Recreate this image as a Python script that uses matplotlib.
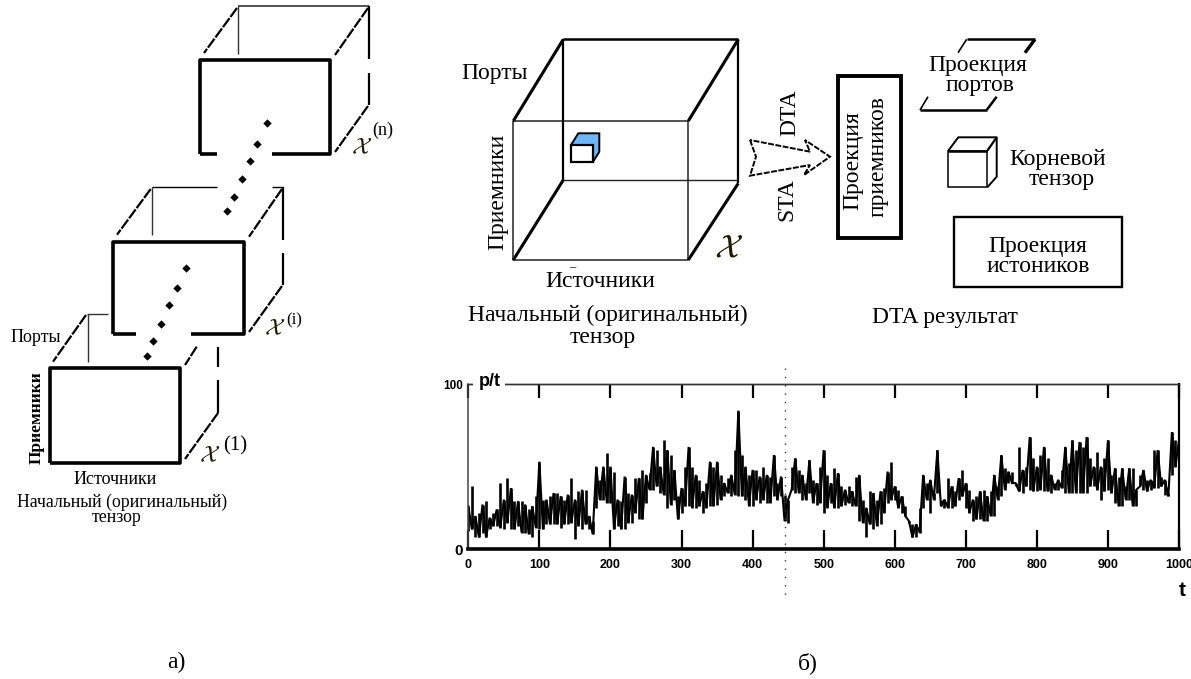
import matplotlib
matplotlib.use("Agg")
import matplotlib.pyplot as plt
from matplotlib.patches import Polygon, Rectangle

W, H = 1191, 679
SERIF = "Liberation Serif"
SANS = "Liberation Sans"
plt.rcParams["mathtext.fontset"] = "cm"

# ---- time series: upper and lower edge every 5 steps
series_t = list(range(0, 1001, 5))
series_hi = [26,38,20,22,27,29,19,22,24,40,
             30,43,37,29,29,29,27,24,26,32,
             53,30,30,32,34,34,32,30,33,43,
             30,35,36,36,20,17,50,42,50,58,
             50,47,30,29,44,34,33,43,43,48,
             45,46,62,60,50,66,60,57,48,32,
             37,50,62,50,45,42,35,40,53,50,
             53,45,40,43,45,60,84,57,50,45,
             48,48,44,50,45,44,57,40,44,33,
             30,50,55,48,45,40,54,42,40,50,
             60,45,40,49,46,38,36,38,35,44,
             45,30,25,35,34,30,35,37,47,53,
             38,36,32,26,17,15,15,25,45,40,
             42,34,60,30,30,43,38,35,43,48,
             40,36,30,32,35,36,32,35,45,38,
             57,49,47,47,40,62,48,50,68,55,
             50,57,62,55,45,40,42,48,62,52,
             66,60,65,62,68,55,50,59,50,55,
             66,45,49,44,49,38,49,49,36,45,
             48,42,42,60,60,44,42,34,71,66,66]
series_lo = [11,12,7,7,10,7,12,14,14,13,
             12,16,12,12,14,10,10,9,7,13,
             12,12,15,15,15,15,13,15,15,16,
             6,14,12,15,12,9,25,30,30,28,
             28,12,14,12,12,16,16,22,18,18,
             28,36,36,38,34,33,25,27,30,18,
             22,26,26,25,25,26,22,25,26,26,
             27,30,32,34,32,33,32,32,30,26,
             26,30,28,30,28,28,32,30,32,17,
             16,36,34,34,30,30,34,28,27,28,
             22,25,28,25,25,26,27,28,26,26,
             17,16,7,15,12,14,15,22,28,30,
             30,25,22,20,16,7,7,10,25,30,
             22,30,34,26,25,25,25,26,30,32,
             25,22,17,18,18,17,17,20,20,30,
             32,36,40,40,38,35,34,38,36,35,
             35,36,35,35,34,36,36,37,34,34,
             34,34,34,34,34,38,38,36,30,35,
             36,34,28,26,26,30,30,26,26,38,
             36,35,36,37,37,38,33,32,45,50,49]
x_ticks = [0,100,200,300,400,500,600,700,800,900,1000]
x_tick_labels = ["0","100","200","300","400","500","600","700","800","900","1000"]
marker_t = 445

fig = plt.figure(figsize=(W/100, H/100), dpi=100, facecolor="white")

# ---- time-series axes
L, R, T, B = 468.3, 1179, 384.3, 549
ax = fig.add_axes([L/W, 1-B/H, (R-L)/W, (B-T)/H])
ax.set_xlim(0, 1000); ax.set_ylim(0, 100)
ax.vlines(series_t, series_lo, series_hi, color="black", lw=1.9)
zig_y = [hi if i % 2 == 0 else lo for i, (hi, lo) in enumerate(zip(series_hi, series_lo))]
ax.plot(series_t, zig_y, color="black", lw=1.5, solid_joinstyle="miter")
ax.set_xticks(x_ticks, x_tick_labels, family=SANS, weight="bold", fontsize=9)
ax.set_yticks([])
ax.tick_params(axis="x", direction="in", length=13.5, width=1.6, pad=7)
sec = ax.secondary_xaxis("top")
sec.set_xticks(x_ticks, [""]*len(x_ticks))
sec.tick_params(direction="in", length=10, width=1.6)
sec.spines["top"].set_linewidth(1.0); sec.spines["top"].set_color("#333333")
for s, lw, c in (("bottom", 2.6, "black"), ("left", 1.1, "#444444"), ("right", 1.6, "black"), ("top", 1.0, "#333333")):
    ax.spines[s].set_linewidth(lw); ax.spines[s].set_color(c)

# ---- overlay in image pixels for the schematic cubes
ov = fig.add_axes([0, 0, 1, 1], facecolor="none")
ov.set_xlim(0, W); ov.set_ylim(H, 0); ov.axis("off")

def ln(xs, ys, lw=1.0, c="black", **k):
    ov.plot(xs, ys, color=c, lw=lw, solid_capstyle="butt", **k)

def dash(x0, y0, x1, y1, lw=1.6):
    ov.plot([x0, x1], [y0, y1], color="black", lw=lw, ls=(0, (5, 0.7)))

def tx(x, y, s, size=17, rot=0, **k):
    ov.text(x, y, s, fontsize=size, family=SERIF, ha="center", va="center", rotation=rot, color="black", **k)

def chi(x, y, size):
    ov.text(x, y, r"$\mathcal{X}$", fontsize=size, ha="center", va="center", color="#1c1c00")

# panel a) stack of cubes
def stacked(fx0, fy0, fx1, fy1, gap, bx0, by0, bx1, by1, topgap, rgap0, rgap1, bry):
    ln([fx0, fx0, fx1, fx1, gap[1]], [fy1, fy0, fy0, fy1, fy1], lw=2.6)
    ln([fx0, gap[0]], [fy1, fy1], lw=2.6)
    if topgap:
        ln([bx0, topgap[0]], [by0, by0], lw=1.0); ln([topgap[1], bx1], [by0, by0], lw=1.0)
    else:
        ln([bx0, bx1], [by0, by0], lw=1.2, c="#333333")
    ln([bx0, bx0], [by0, by1], lw=1.0, c="#333333")
    ln([bx1, bx1], [by0, rgap0], lw=1.6); ln([bx1, bx1], [rgap1, bry], lw=1.6)
    dash(bx0-1, by0+2, fx0+4, fy0-7)
    dash(bx1-1, by0+2, fx1+5, fy0-5)
    dash(bx1-1, bry+1, fx1+5, fy1-2)

stacked(200, 60, 330, 154, (217, 272), 238, 6, 369, 54, None, 59, 73, 105)
stacked(113, 241.7, 244, 334, (136, 191), 151.7, 187, 283, 235, (216.7, 271.7), 240, 253, 285)
ln([50, 50, 180, 180, 50], [462.7, 368, 368, 462.7, 462.7], lw=2.6)
ln([87.7, 87.7], [314, 362], lw=1.0, c="#333333")
ln([87, 108], [314, 314], lw=1.0, c="#333333")
dash(86, 315, 53, 361.7)
dash(196.7, 346.7, 185, 365)
ln([218.3, 218.3], [346.7, 367], lw=1.6); ln([218.3, 218.3], [380, 412.7], lw=1.6)
dash(218, 413, 185, 459)

dot_x = [266.7,256.7,250,241.7,234.2,227.3,185.7,176.7,169.3,161,152.7,146.7]
dot_y = [123,144,160.7,179,197,211.3,268,288,305,324,341,356]
ov.scatter(dot_x, dot_y, s=18, marker="D", color="black", lw=0)

tx(36, 337, "Порты", 13)
tx(37, 418, "Приемники", 12.5, rot=90, weight="bold")
tx(115, 480, "Источники", 13)
tx(121.7, 502, "Начальный (оригинальный)", 12.8)
tx(116.7, 518, "тензор", 12.8)
chi(361.7, 147, 17)
tx(383, 130, "(n)", 13)
chi(275, 328, 17)
tx(294, 320, "(i)", 12)
chi(210, 455, 17)
tx(235, 446, "(1)", 15)

# panel b) main cube
ln([513.3, 688.3, 688.3, 513.3, 513.3], [121, 121, 260, 260, 121], lw=1.1, c="#222222")
ln([563.3, 738.3], [39.3, 39.3], lw=1.8)
ln([563.3, 563.3], [39.3, 180], lw=1.6)
ln([738.3, 738.3], [39.3, 183.3], lw=1.6)
ln([563.3, 738.3], [180, 180], lw=1.0, c="#222222")
for (a, b), (c, d) in (((513.3, 121), (563.3, 39.3)), ((688.3, 121), (738.3, 39.3)),
                       ((513.3, 260), (563.3, 180)), ((688.3, 260), (738.3, 183.3))):
    ln([a, c], [b, d], lw=2.2)
ov.add_patch(Polygon([[571, 145], [578.3, 133.3], [599.3, 133.3], [599.3, 151.7], [592.7, 162.3], [592.7, 145]],
                     fc="#6db6f8", ec="black", lw=1.4))
ov.add_patch(Rectangle((571, 145), 21.7, 17.3, fc="white", ec="black", lw=1.6))

ov.add_patch(Polygon([[750, 140], [756, 156.7], [750, 175.7], [810, 165], [804, 175], [830, 156.7], [805, 140], [810, 151.7]],
                     closed=True, fc="white", ec="black", lw=1.4, ls=(0, (3, 0.8))))

tx(495, 73, "Порты")
tx(497.7, 191.7, "Приемники", rot=90)
tx(600, 281.7, "Источники")
tx(572.7, 267, "–", 9)
tx(608, 315, "Начальный (оригинальный)")
tx(602.7, 338, "тензор")
chi(728, 247.7, 24)
tx(786.7, 200, "STA", rot=90)
tx(790, 113, "DTA", rot=90)

ov.add_patch(Rectangle((838.3, 75.7), 62.7, 162.6, fc="white", ec="black", lw=2.8))
tx(853, 161, "Проекция", rot=90)
tx(878, 157, "приемников", rot=90)

ln([966.7, 1035], [39.3, 39.3], lw=1.8)
ln([1035, 1025], [39.3, 52.7], lw=2.4)
ln([966.7, 958], [39.3, 52.7], lw=1.2)
ln([920, 986.7], [110, 110], lw=1.8)
ln([920, 928], [110, 96.7], lw=1.2)
ln([986.7, 996.7], [110, 96.7], lw=1.8)
tx(978, 66, "Проекция")
tx(980, 86, "портов")

ov.add_patch(Rectangle((948.3, 150.7), 39, 36.6, fc="white", ec="black", lw=1.1))
ln([948.3, 958.3, 996.7, 996.7, 987.3], [150.7, 137.3, 137.3, 176.7, 187.3], lw=1.4)
ln([987.3, 996.7], [150.7, 137.3], lw=1.6)
ln([948.3, 987.3], [150.7, 150.7], lw=1.8)
tx(1058, 160, "Корневой")
tx(1061.7, 180, "тензор")

ov.add_patch(Rectangle((954, 216.7), 167.7, 70, fc="white", ec="black", lw=1.7))
tx(1038, 246.7, "Проекция")
tx(1038, 267, "истоников")
tx(945, 318, "DTA результат")

tx(176.7, 662.7, "а)")
tx(808, 663, "б)")

# time-series annotations
ov.plot([L + (R-L)*marker_t/1000]*2, [368, 600], color="#333333", lw=1.0, ls=(0, (1, 5)))
ov.add_patch(Rectangle((473, 379), 32, 10, fc="white", ec="none"))
ov.text(490, 382, "p/t", fontsize=13, family=SANS, weight="bold", ha="center", va="center")
ov.text(463, 386, "100", fontsize=8.5, family=SANS, weight="bold", ha="right", va="center")
ov.text(463, 551, "0", fontsize=11, family=SANS, weight="bold", ha="right", va="center")
ov.text(1182, 590, "t", fontsize=15, family=SANS, weight="bold", ha="center", va="center")

fig.savefig("out.png", dpi=100, facecolor="white")
